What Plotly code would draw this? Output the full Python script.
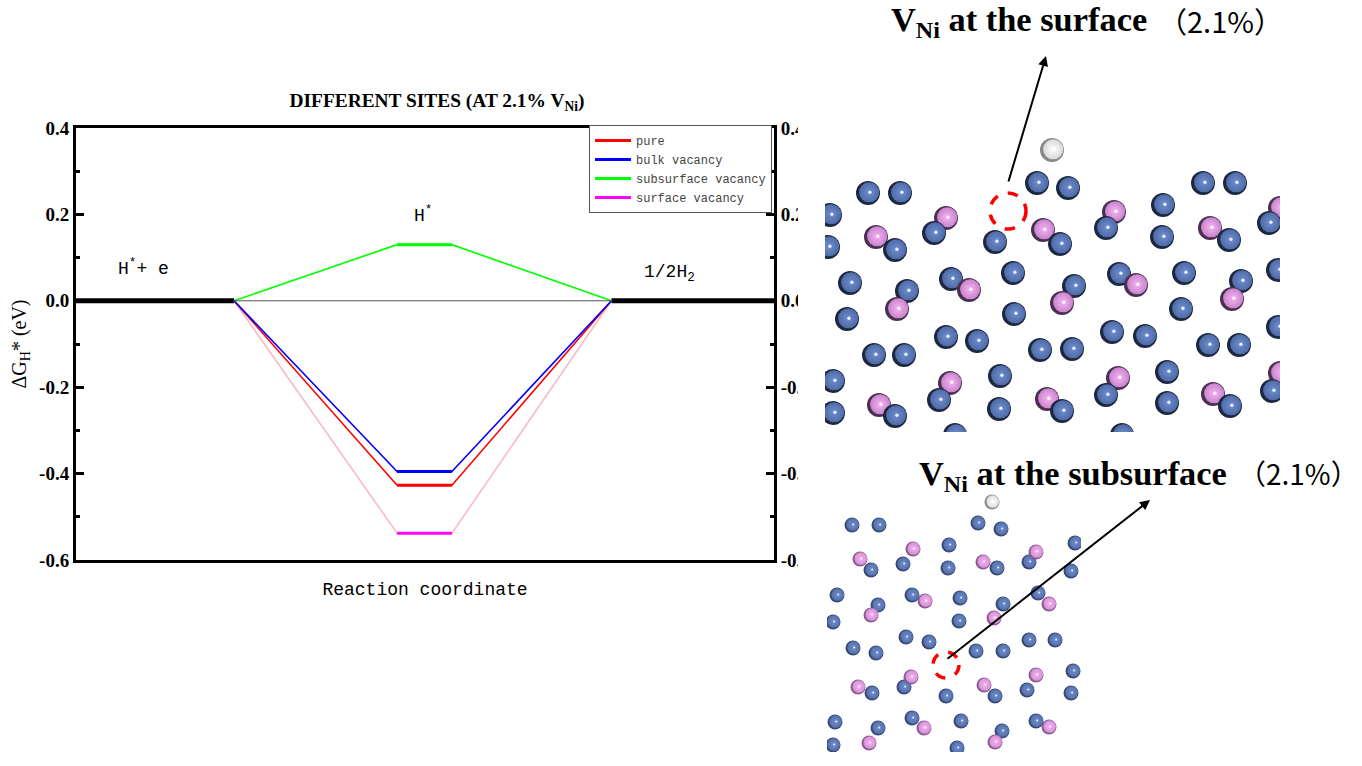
import plotly.graph_objects as go

# ---------- energy diagram data ----------
series_names = ["pure", "bulk vacancy", "subsurface vacancy", "surface vacancy"]
series_levels = [-0.427, -0.395, 0.13, -0.538]
flat_colors = ["#ff0000", "#0000ff", "#00ff00", "#ff00ff"]
link_colors = ["#ff0000", "#0000ff", "#00ff00", "#f5bcc6"]
step_x = [1.585, 3.22, 3.77, 5.37]
left_flat_x = [0, 1.585]
right_flat_x = [5.37, 7]
y_ticks = [-0.6, -0.4, -0.2, 0.0, 0.2, 0.4]
y_tick_labels = ["-0.6", "-0.4", "-0.2", "0.0", "0.2", "0.4"]

# ---------- atoms, upper panel (picture pixels) ----------
p1_blue_back_x = [951, 1013, 1074, 1241, 1278, 847, 1014, 1181, 1278, 874, 904, 946, 977, 1040, 1072, 1112, 1145, 1208, 1239, 907, 1119, 850, 1184]
p1_blue_back_y = [279, 273, 286, 281, 270, 319, 314, 309, 327, 355, 355, 337, 341, 350, 349, 332, 336, 345, 345, 291, 274, 283, 273]
p1_pink_x = [876, 946, 1043, 1114, 1210, 1280, 969, 897, 1062, 1136, 1232, 950, 879, 1047, 1118, 1213, 1280]
p1_pink_y = [237, 218, 230, 212, 228, 208, 290, 309, 303, 285, 299, 383, 405, 399, 378, 394, 373]
p1_blue_front_x = [868, 900, 1037, 1068, 1203, 1235, 830, 828, 934, 895, 995, 1060, 1106, 1163, 1162, 1229, 1269, 1167, 1000, 833, 833, 939, 895, 999, 1062, 1106, 1167, 1230, 1272, 1122, 955]
p1_blue_front_y = [193, 193, 183, 188, 183, 183, 215, 247, 233, 250, 242, 244, 228, 205, 237, 240, 223, 372, 376, 381, 413, 400, 416, 409, 411, 395, 403, 406, 391, 435, 435]
p1_white_x = [1052]
p1_white_y = [150]

# ---------- atoms, lower panel (picture pixels) ----------
p2_blue_x = [852, 879, 978, 1001, 1075, 949, 903, 871, 948, 997, 1029, 1071, 837, 912, 960, 878, 1003, 1038, 833, 959, 906, 929, 853, 876, 976, 1003, 1029, 1055, 1073, 904, 872, 946, 995, 1027, 1071, 835, 912, 961, 878, 1002, 1036, 833, 957]
p2_blue_y = [525, 525, 523, 529, 543, 545, 564, 570, 568, 568, 562, 571, 595, 595, 598, 605, 604, 593, 622, 621, 637, 642, 648, 653, 651, 651, 640, 640, 671, 687, 693, 696, 696, 690, 693, 722, 718, 721, 728, 731, 721, 745, 748]
p2_pink_x = [913, 860, 983, 1036, 925, 871, 994, 1049, 911, 858, 984, 1036, 924, 869, 995, 1049]
p2_pink_y = [549, 559, 562, 552, 601, 615, 618, 604, 677, 687, 685, 675, 728, 743, 742, 727]
p2_white_x = [992]
p2_white_y = [502]

# ---------- vacancy circles and arrows (picture pixels) ----------
circle_cx = [1008, 946]
circle_cy = [211, 665]
circle_r = [18, 13]
arrow_from_x = [1008, 946]
arrow_from_y = [183, 660]
arrow_to_x = [1046, 1150]
arrow_to_y = [56, 500]

W, H = 1362, 766
def dx(a, b):
    return [a / W, b / W]
def dy(top, bottom):
    return [1 - bottom / H, 1 - top / H]

SERIF = "Liberation Serif"
MONO = "Liberation Mono"
CJK = "Noto Sans CJK SC"

fig = go.Figure()

# thin zero line also holds the right-hand axis
fig.add_trace(go.Scatter(x=[step_x[0], step_x[3]], y=[0, 0], yaxis="y2", mode="lines",
                         line=dict(color="#555555", width=1), showlegend=False, hoverinfo="skip"))
for xs in (left_flat_x, right_flat_x):
    fig.add_trace(go.Scatter(x=xs, y=[0, 0], mode="lines", line=dict(color="black", width=5),
                             showlegend=False, hoverinfo="skip", cliponaxis=False))
link_order = [3, 2, 0, 1]
for i in link_order:
    lv = series_levels[i]
    fig.add_trace(go.Scatter(x=step_x, y=[0, lv, lv, 0], mode="lines",
                             line=dict(color=link_colors[i], width=1.6),
                             showlegend=False, hoverinfo="skip"))
for i, name in enumerate(series_names):
    lv = series_levels[i]
    fig.add_trace(go.Scatter(x=step_x[1:3], y=[lv, lv], mode="lines", name=name,
                             line=dict(color=flat_colors[i], width=3), hoverinfo="skip"))

def atoms(xs, ys, size, edge, rim, core, xa, ya):
    common = dict(xaxis=xa, yaxis=ya, mode="markers", showlegend=False, hoverinfo="skip")
    fig.add_trace(go.Scatter(x=xs, y=ys, marker=dict(size=size, color=edge, line=dict(width=0)), **common))
    fig.add_trace(go.Scatter(x=[v + size * 0.05 for v in xs], y=[v - size * 0.03 for v in ys],
                             marker=dict(size=size * 0.84, color=rim, line=dict(width=0),
                                         gradient=dict(type="radial", color=core)), **common))
    fig.add_trace(go.Scatter(x=[v + size * 0.08 for v in xs], y=[v - size * 0.03 for v in ys],
                             marker=dict(size=size * 0.14, color="rgba(255,255,255,0.85)", line=dict(width=0)), **common))

atoms(p1_blue_back_x, p1_blue_back_y, 24, "#1c2740", "#4f6aa6", "#6f8fd0", "x4", "y4")
atoms(p1_pink_x, p1_pink_y, 24, "#4a3050", "#c884cc", "#f6b4f2", "x4", "y4")
atoms(p1_blue_front_x, p1_blue_front_y, 24, "#1c2740", "#4f6aa6", "#6f8fd0", "x4", "y4")
atoms(p1_white_x, p1_white_y, 24, "#888888", "#d8d8d8", "#ffffff", "x4", "y4")
atoms(p2_blue_x, p2_blue_y, 15, "#3a4a78", "#5570aa", "#6f8fd0", "x5", "y5")
atoms(p2_pink_x, p2_pink_y, 15, "#8a5a90", "#d590d5", "#f6b4f2", "x5", "y5")
atoms(p2_white_x, p2_white_y, 15, "#888888", "#dddddd", "#ffffff", "x5", "y5")
fig.add_trace(go.Scatter(x=[None], y=[None], xaxis="x3", yaxis="y3", showlegend=False, hoverinfo="skip"))

y_common = dict(range=[-0.6, 0.4], tickmode="array", tickvals=y_ticks, ticktext=y_tick_labels,
                ticks="inside", ticklen=8, tickwidth=3, tickcolor="black", showgrid=False, zeroline=False,
                showline=True, linecolor="black", linewidth=3, automargin=False,
                tickfont=dict(family=SERIF, size=19, color="black", weight="bold"),
                minor=dict(tickvals=[-0.5, -0.3, -0.1, 0.1, 0.3], ticks="inside", ticklen=4, tickwidth=3, tickcolor="black", showgrid=False))

annos = []
def label(x, y, text, font, size, bold=False, xanchor="left"):
    annos.append(dict(x=x, y=y, xref="x3", yref="y3", text=text, showarrow=False, xanchor=xanchor,
                      yanchor="middle", font=dict(family=font, size=size, color="black",
                                                  weight="bold" if bold else "normal")))

label(116, 267, "H<sup>*</sup>+ e", MONO, 18)
label(412, 214, "H<sup>*</sup>", MONO, 18)
label(642, 273, "1/2H<sub>2</sub>", MONO, 18)
label(889, 21, "V<sub>Ni</sub> at the surface", SERIF, 34.4, True)
label(1156, 20, "（2.1%）", CJK, 29)
label(917, 475, "V<sub>Ni</sub> at the subsurface", SERIF, 34.4, True)
label(1236, 473, "（2.1%）", CJK, 28)

for x0, y0, x1, y1 in zip(arrow_from_x, arrow_from_y, arrow_to_x, arrow_to_y):
    annos.append(dict(x=x1, y=y1, ax=x0, ay=y0, xref="x3", yref="y3", axref="x3", ayref="y3", text="",
                      showarrow=True, arrowhead=2, arrowsize=1, arrowwidth=2, arrowcolor="black"))

shapes = [dict(type="rect", xref="paper", yref="paper", x0=798 / W, x1=825 / W, y0=0, y1=1,
               fillcolor="white", line=dict(width=0), layer="above")]
for cx, cy, r in zip(circle_cx, circle_cy, circle_r):
    shapes.append(dict(type="circle", xref="x3", yref="y3", x0=cx - r, x1=cx + r, y0=cy - r, y1=cy + r,
                       line=dict(color="#ff0000", width=3.5, dash="dash"), layer="above"))

hidden = dict(visible=False, fixedrange=True, automargin=False)

fig.update_layout(
    width=W, height=H, margin=dict(l=0, r=0, t=0, b=0),
    plot_bgcolor="rgba(0,0,0,0)", paper_bgcolor="white", hovermode=False,
    title=dict(text="<b>DIFFERENT SITES (AT 2.1% V<sub>Ni</sub>)</b>", x=437 / W, xanchor="center",
               y=1 - 100 / H, yanchor="middle", font=dict(family=SERIF, size=19.4, color="black")),
    xaxis=dict(domain=dx(76, 774), range=[0, 7], showticklabels=False, ticks="", showgrid=False, zeroline=False,
               showline=True, linecolor="black", linewidth=3, mirror=True, automargin=False,
               title=dict(text="Reaction coordinate", standoff=21, font=dict(family=MONO, size=18, color="black"))),
    yaxis=dict(domain=dy(128, 560), title=dict(text="ΔG<sub>H</sub>* (eV)", standoff=8,
                                               font=dict(family=SERIF, size=20, color="black")), **y_common),
    yaxis2=dict(domain=dy(128, 560), overlaying="y", side="right", anchor="x", **y_common),
    xaxis3=dict(domain=[0, 1], range=[0, W], anchor="y3", **hidden),
    yaxis3=dict(domain=[0, 1], range=[H, 0], anchor="x3", **hidden),
    xaxis4=dict(domain=dx(825, 1280), range=[825, 1280], anchor="y4", **hidden),
    yaxis4=dict(domain=dy(138, 432), range=[432, 138], anchor="x4", **hidden),
    xaxis5=dict(domain=dx(827, 1081), range=[827, 1081], anchor="y5", **hidden),
    yaxis5=dict(domain=dy(490, 752), range=[752, 490], anchor="x5", **hidden),
    legend=dict(x=589 / W, y=1 - 125 / H, xanchor="left", yanchor="top", bgcolor="white",
                bordercolor="#555555", borderwidth=1, itemwidth=36,
                font=dict(family=MONO, size=12, color="#444444")),
    annotations=annos, shapes=shapes,
)

fig.write_html("out.html", config={"displayModeBar": False},
               post_script="document.body.style.margin='0';window.dispatchEvent(new Event('resize'));")
